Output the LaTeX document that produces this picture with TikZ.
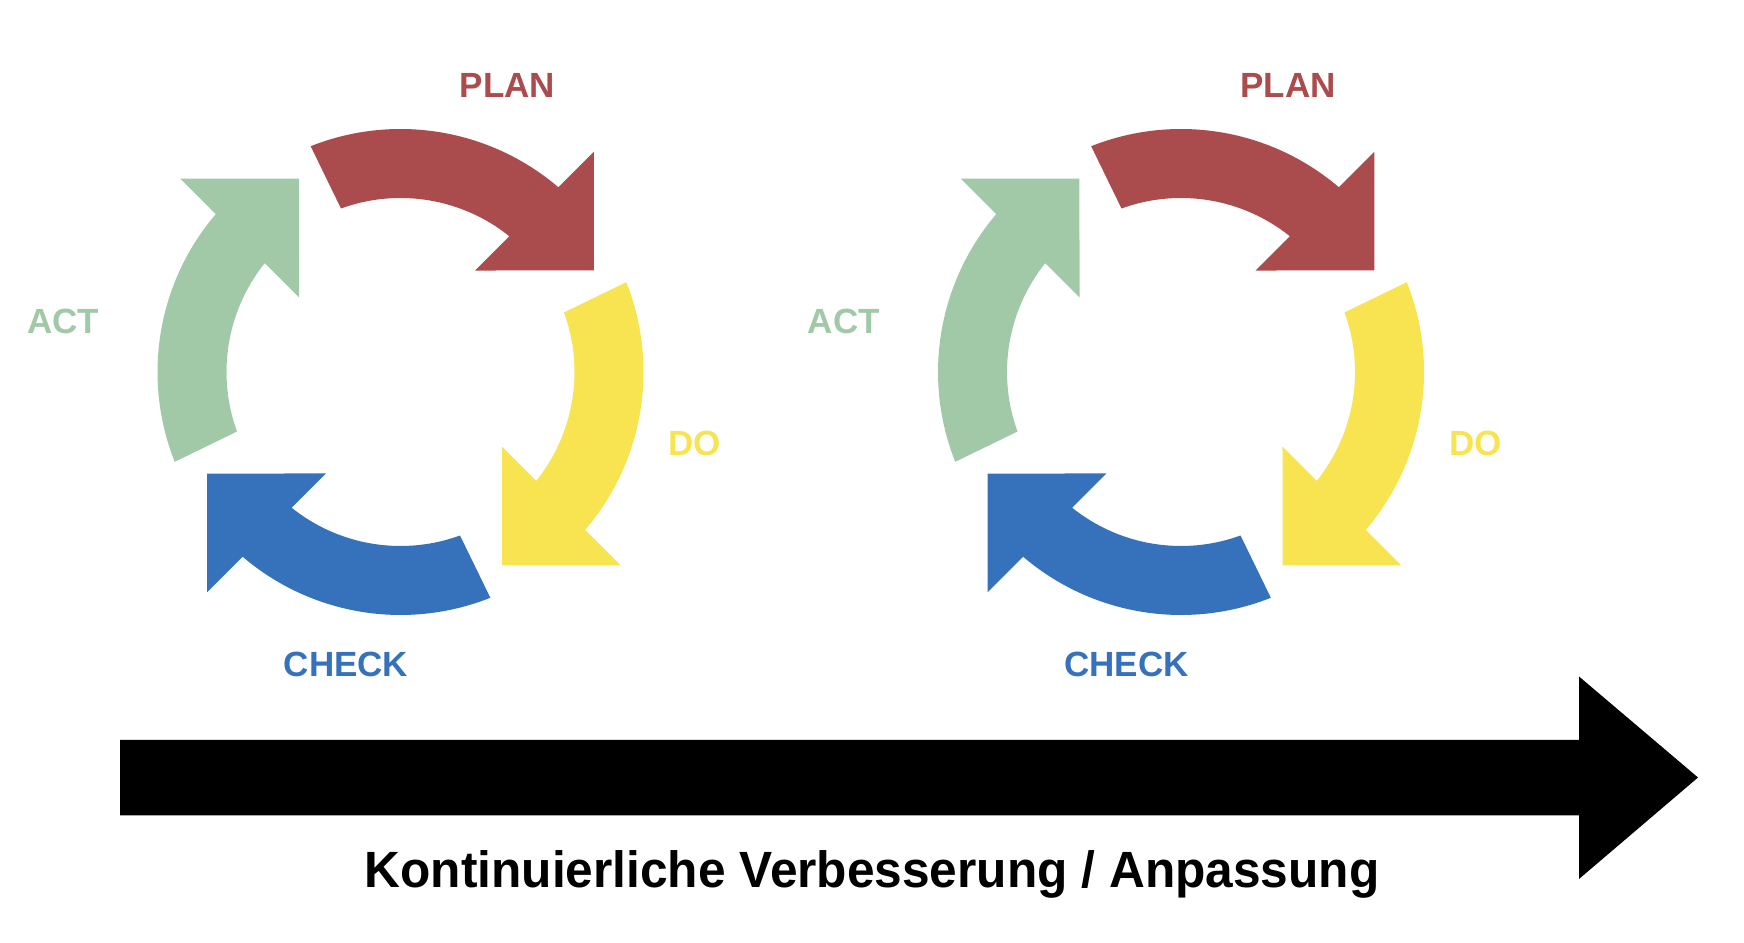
\documentclass[tikz,border=0pt]{standalone}
\usepackage{fontspec}
\setmainfont{Liberation Sans}
\definecolor{planred}{RGB}{170,75,77}
\definecolor{doyellow}{RGB}{248,227,80}
\definecolor{checkblue}{RGB}{53,114,187}
\definecolor{actgreen}{RGB}{161,200,167}
\newcommand\pdcacycle[2]{%
  \begin{scope}[shift={(#1,#2)}]
    \foreach \r/\c in {0/planred,-90/doyellow,-180/checkblue,-270/actgreen}{
      \fill[\c] ({111.7+\r}:243) arc[start angle={111.7+\r}, end angle={49.47+\r}, radius=243pt]
        -- ({48.71+\r}:293) -- ({27.70+\r}:218.5) -- ({53.65+\r}:126)
        -- ({51.26+\r}:174) arc[start angle={51.26+\r}, end angle={110+\r}, radius=174pt] -- cycle;
    }
  \end{scope}}
\begin{document}
\begin{tikzpicture}[x=1pt,y=1pt,
  lbl/.style={font=\fontsize{35}{35}\selectfont\bfseries, anchor=base, inner sep=0pt},
  caption/.style={font=\fontsize{51}{51}\selectfont\bfseries, anchor=base, inner sep=0pt}]
\useasboundingbox (0,0) rectangle (1744,942);
\pdcacycle{400.5}{570}
\pdcacycle{1181}{570}
% labels left
\node[lbl, text=planred] (plan1) at (507.5,844) {PLAN};
\node[lbl, text=doyellow] (do1) at (694.8,486) {DO};
\node[lbl, text=checkblue] (check1) at (346,265.4) {CHECK};
\node[lbl, text=actgreen] (act1) at (63.3,608) {ACT};
% labels right
\node[lbl, text=planred] (plan2) at (1288,844) {PLAN};
\node[lbl, text=doyellow] (do2) at (1475.3,486) {DO};
\node[lbl, text=checkblue] (check2) at (1126.5,265.4) {CHECK};
\node[lbl, text=actgreen] (act2) at (843.8,608) {ACT};
% big arrow
\fill[black] (120,202) -- (1579,202) -- (1579,265.5) -- (1698,164.5) -- (1579,63) -- (1579,126.5) -- (120,126.5) -- cycle;
\node[caption] (cap) at (872,54.3) {\scalebox{0.973}[1]{Kontinuierliche Verbesserung / Anpassung}};
\end{tikzpicture}
\end{document}
